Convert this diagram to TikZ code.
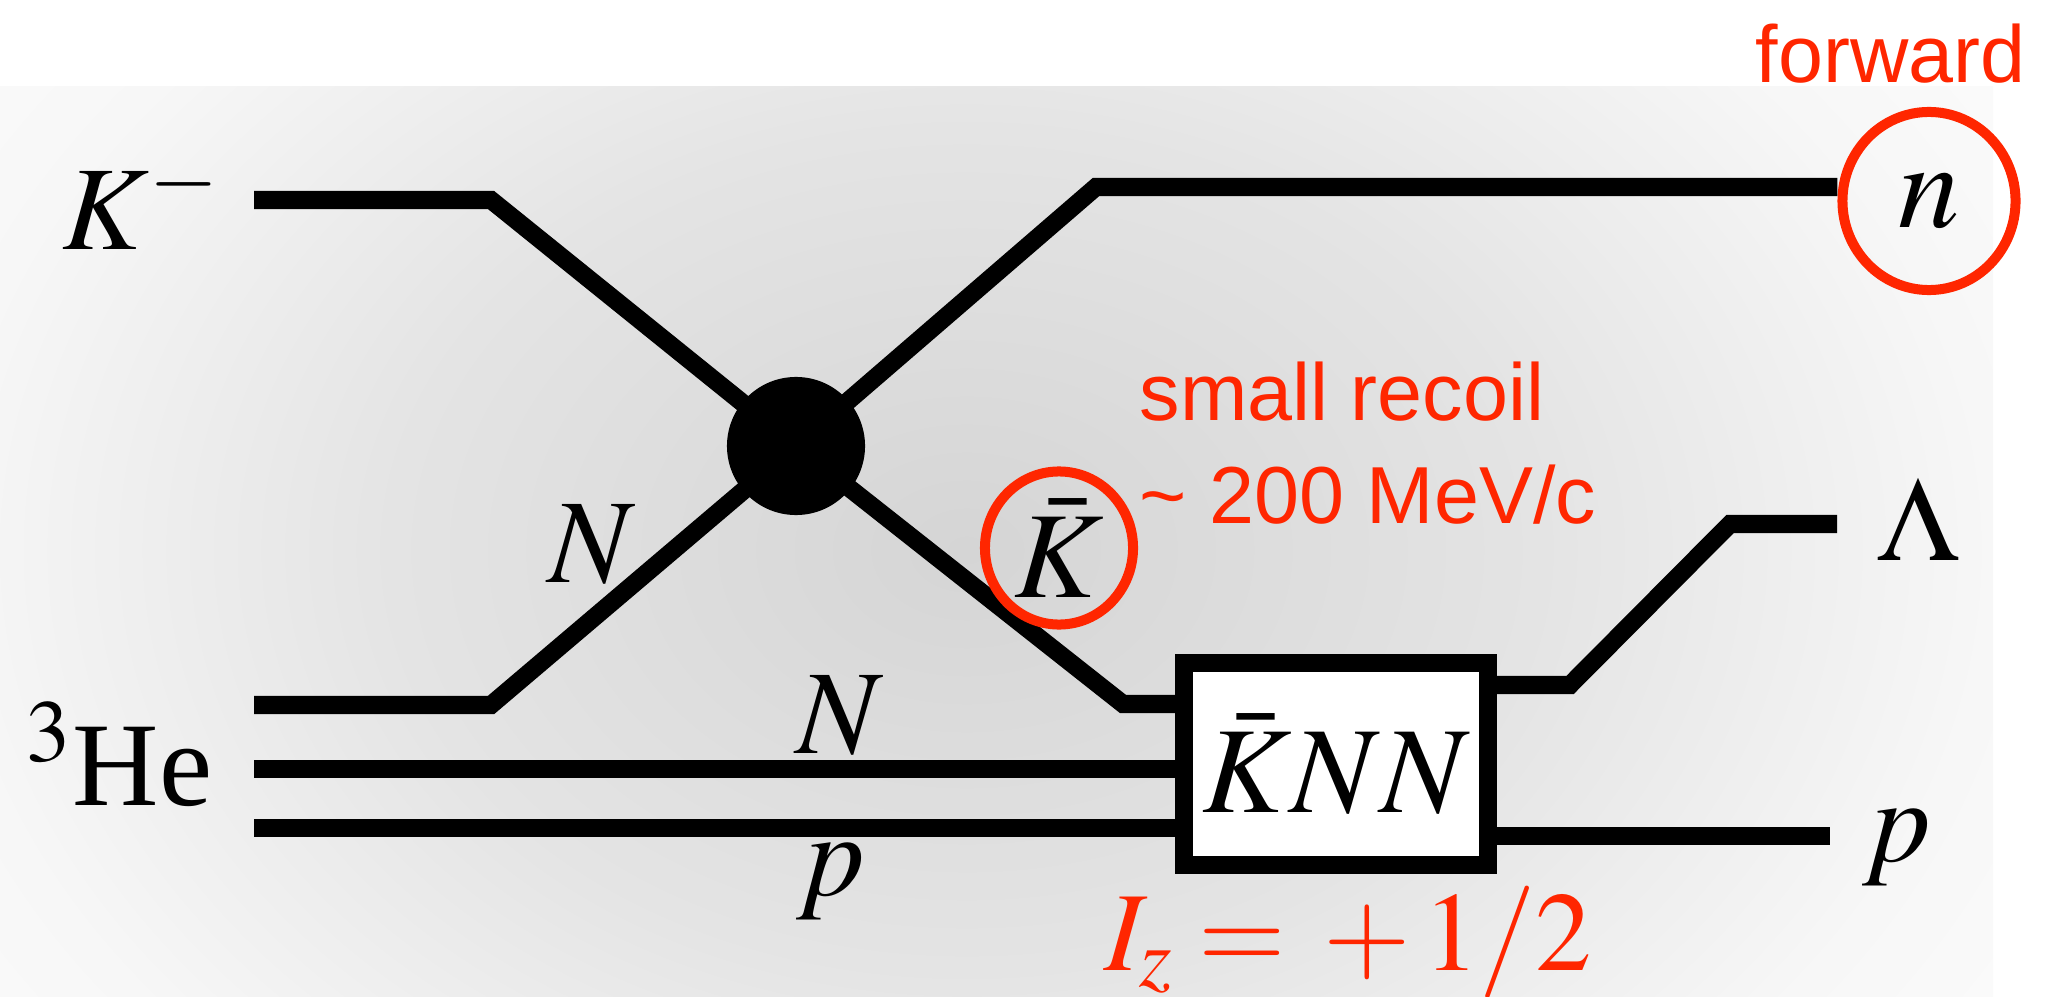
\documentclass[tikz,border=0pt]{standalone}
\usepackage{mathptmx}
\usepackage[no-math]{fontspec}
\setmainfont{Liberation Serif}
\newfontfamily\notefont{Liberation Sans}
\usepackage{xcolor}
\definecolor{NoteRed}{RGB}{255,38,0}
\definecolor{BgCore}{RGB}{213,213,213}
\definecolor{BgMid}{RGB}{228,228,228}
\definecolor{BgEdge}{RGB}{247,247,247}
\usepackage{tikz}
\usetikzlibrary{
  shapes, shapes.geometric,
  positioning, calc
}
\pgfdeclareradialshading{bgglow}{\pgfpoint{0bp}{0bp}}{%
  color(0bp)=(BgCore); color(14bp)=(BgMid); color(25bp)=(BgEdge);
  color(36bp)=(white); color(50bp)=(white)}
\tikzset{
  % Thick particle line
  track/.style={line width=0.18cm, line join=miter},
  % Particle label
  plabel/.style={inner sep=0pt, font=\fontsize{34}{40}\selectfont},
  % Red annotation
  note/.style={inner sep=0pt, text=NoteRed, font=\notefont\fontsize{23}{27}\selectfont},
  % Red ring round a particle
  ring/.style={ellipse, draw=NoteRed, line width=0.1cm, inner sep=0pt,
    font=\fontsize{35}{40}\selectfont},
  % Reaction vertex
  vtxdot/.style={circle, fill=black, minimum size=1.38cm, inner sep=0pt},
  % Bound state box
  knnbox/.style={rectangle, draw=black, fill=white, line width=0.18cm,
    minimum width=3.04cm, minimum height=2.01cm, inner sep=0pt,
    font=\fontsize{35}{40}\selectfont},
}

\begin{document}
\begin{tikzpicture}[x=0.01cm, y=-0.01cm]
  \useasboundingbox (0,0) rectangle (2054,997);

  %% Background
  \begin{scope}
    \clip (0,87) rectangle (1993,997);
    \shade[shading=bgglow] (-60,-200) rectangle (1993,1300);
  \end{scope}

  %% Vertex, box, forward ring
  \node[vtxdot] (vtx) at (796,446) {};
  \node[knnbox] (knn) at (1336,764) {$\bar{K}NN$};
  \node[ring, minimum width=1.73cm, minimum height=1.78cm] (nring) at (1929,201) {$n$};

  %% Free ends and bends
  \coordinate (kin) at (254,200);
  \coordinate (kbend) at (491,200);
  \coordinate (ain) at (254,705);
  \coordinate (abend) at (491,705);
  \coordinate (nbend) at (1096,187);
  \coordinate (kbbend) at (1123,704);
  \coordinate (nin) at (254,769);
  \coordinate (pin) at (254,828);
  \coordinate (lbend) at (1570,685);
  \coordinate (ltop) at (1730,524);
  \coordinate (lout) at (1837,524);
  \coordinate (pout) at (1830,836);

  %% Lines
  \draw[track] (kin) -- (kbend) -- (vtx.center);
  \draw[track] (ain) -- (abend) -- (vtx.center);
  \draw[track] (vtx.center) -- (nbend) -- (nring.west |- nbend);
  \draw[track] (vtx.center) -- (kbbend) -- (kbbend -| knn.west);
  \draw[track] (nin) -- (nin -| knn.west);
  \draw[track] (pin) -- (pin -| knn.west);
  \draw[track] (knn.east |- lbend) -- (lbend) -- (ltop) -- (lout);
  \draw[track] (knn.east |- pout) -- (pout);

  %% Kbar ring
  \node[ring, minimum width=1.48cm, minimum height=1.53cm] (kbring) at (1059,548) {$\bar{K}$};

  %% Labels
  \node[plabel, anchor=base west] (kmlab) at (62,250) {$K^-$};
  \node[plabel, anchor=base west] (nlab) at (548,582) {$N$};
  \node[plabel, anchor=base west] (helab) at (26,805) {$^3$He};
  \node[plabel, anchor=base west] (nlabb) at (796,753) {$N$};
  \node[plabel, anchor=base west] (plab) at (796,895) {$p$};
  \node[plabel, anchor=base west] (lamlab) at (1877,560) {$\Lambda$};
  \node[plabel, anchor=base west] (plabb) at (1862,861) {$p$};
  \node[plabel, anchor=base west, text=NoteRed, font=\fontsize{32}{38}\selectfont]
    (izlab) at (1104,970) {$I_z=\,+\,1/2$};

  %% Notes
  \node[note, anchor=base west] (recoil) at (1139,420) {small recoil};
  \node[note, anchor=base west] (mom) at (1139,523) {\textasciitilde\ 200 MeV/c};
  \node[note, anchor=base west] (fwd) at (1755,83) {forward};

\end{tikzpicture}
\end{document}
